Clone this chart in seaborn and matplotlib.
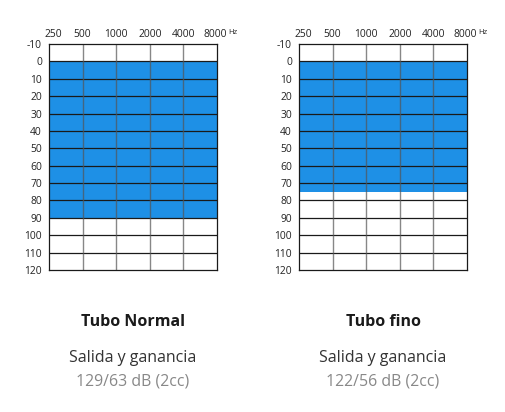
import numpy as np
import matplotlib.pyplot as plt
import matplotlib.transforms as mtransforms
import pandas as pd
import seaborn as sns

# frequencies (column edges) and the hearing-level ticks
freq_labels = ['250', '500', '1000', '2000', '4000', '8000']
bands = ['250-500', '500-1k', '1k-2k', '2k-4k', '4k-8k']
db_ticks = list(range(-10, 130, 10))

# fitting range per tube, in dB HL
normal_level = [90, 90, 90, 90, 90]
fino_level = [75, 75, 75, 75, 75]

titles = ['Tubo Normal', 'Tubo fino']
subtitles = ['Salida y ganancia', 'Salida y ganancia']
values = ['129/63 dB (2cc)', '122/56 dB (2cc)']

sns.set_theme(style='white')
plt.rcParams['font.family'] = ['Open Sans', 'DejaVu Sans']

fig = plt.figure(figsize=(5.06, 4.12), dpi=100)
lefts = [49 / 506, 299 / 506]
levels = [normal_level, fino_level]

for i in range(2):
    ax = fig.add_axes([lefts[i], 142 / 412, 168 / 506, 226 / 412])
    df = pd.DataFrame({'band': bands, 'level': levels[i]})
    sns.barplot(data=df, x='band', y='level', color='#1e90e6', saturation=1,
                width=1, edgecolor='none', ax=ax)
    ax.set_xlim(-0.5, 4.5)
    ax.set_ylim(120, -10)
    ax.set_xlabel('')
    ax.set_ylabel('')
    ax.set_yticks(db_ticks)
    ax.set_yticklabels([str(t) for t in db_ticks], fontsize=7.4, color='#222222')
    ax.set_xticks(np.arange(-0.5, 5, 1))
    ax.set_xticklabels(freq_labels, fontsize=7.4, color='#222222')
    ax.xaxis.tick_top()
    ax.tick_params(length=0, pad=3)
    ax.tick_params(axis='y', pad=5)
    # nudge the end labels a bit inward, like the original
    ticks = ax.xaxis.get_major_ticks()
    for tk, dx in [(ticks[0], 4), (ticks[-1], -2)]:
        off = mtransforms.ScaledTranslation(dx / 100, 0, fig.dpi_scale_trans)
        tk.label2.set_transform(tk.label2.get_transform() + off)
    for t in db_ticks[1:-1]:
        ax.axhline(t, color='#1a1a1a', lw=0.9, zorder=5)
    for x in range(4):
        ax.axvline(x + 0.5, color='#555555', lw=1.0, zorder=5, alpha=0.7)
    for s in ax.spines.values():
        s.set_color('#1a1a1a')
        s.set_linewidth(0.9)
        s.set_zorder(6)
    ax.text(1.068, 1.052, 'Hz', transform=ax.transAxes, fontsize=5.5, color='#222222',
            va='center', ha='left')

    cx = lefts[i] + 84 / 506
    fig.text(cx, 1 - 322 / 412, titles[i], ha='center', va='center',
             fontsize=11.5, fontweight='bold', color='#1a1a1a')
    fig.text(cx, 1 - 358 / 412, subtitles[i], ha='center', va='center',
             fontsize=11.5, color='#333333')
    fig.text(cx, 1 - 381 / 412, values[i], ha='center', va='center',
             fontsize=11.4, color='#888888')

fig.savefig('out.png', dpi=100)
